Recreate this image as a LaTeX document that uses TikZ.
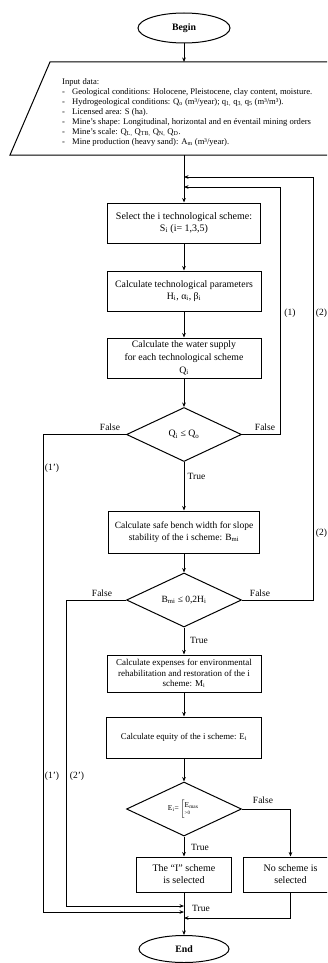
\documentclass[tikz,border=0pt]{standalone}
\usepackage{fontspec}
\setmainfont{Liberation Serif}
\usetikzlibrary{shapes.geometric,arrows.meta}
\newcommand\dashitem{\makebox[10pt][l]{-}}
\newcommand\sbs[1]{\textsubscript{#1}}
\newcommand\bxfont{\fontsize{9.8}{11.8}\selectfont}
\begin{document}
\begin{tikzpicture}[x=1pt,y=-1pt,
  proc/.style={draw, line width=1pt, align=center, inner sep=1pt, font=\bxfont},
  dec/.style={draw, diamond, line width=1pt, shape aspect=2, inner sep=0pt, minimum width=115pt, minimum height=54pt, font=\bxfont},
  term/.style={draw, ellipse, line width=1pt, inner sep=0pt, font=\fontsize{9.8}{11}\selectfont\bfseries},
  arr/.style={-{Stealth[length=4.5pt,width=3.6pt]}, line width=0.9pt},
  lbl/.style={inner sep=0pt, font=\fontsize{9.5}{11}\selectfont}
]
\useasboundingbox (0,0) rectangle (327,963);
\clip (0,0) rectangle (327,963);

% terminals
\node[term, minimum width=92pt, minimum height=30pt] (begin) at (184,28) {Begin};
\node[term, minimum width=90pt, minimum height=27pt] (end) at (184,949) {End};

% input data (parallelogram, right side runs off the picture)
\coordinate (inBL) at (10,155);
\coordinate (inTL) at (50,62);
\coordinate (inTR) at (380,62);
\coordinate (inBR) at (340,155);
\draw[line width=1pt] (inBL) -- (inTL) -- (inTR) -- (inBR) -- cycle;
\coordinate (intop) at (184,62);
\coordinate (inbot) at (184,155);
\node[anchor=north west, inner sep=0pt, align=left, font=\fontsize{8.6}{10}\selectfont] (intext) at (62,78) {Input data:\\
\dashitem Geological conditions: Holocene, Pleistocene, clay content, moisture.\\
\dashitem Hydrogeological conditions: Q\sbs{o} (m³/year); q\sbs{1,} q\sbs{3,} q\sbs{5} (m³/m³).\\
\dashitem Licensed area: S (ha).\\
\dashitem Mine’s shape: Longitudinal, horizontal and en éventail mining orders\\
\dashitem Mine’s scale: Q\sbs{L,} Q\sbs{TB,} Q\sbs{N,} Q\sbs{D}.\\
\dashitem Mine production (heavy sand): A\sbs{m} (m³/year).};

% process boxes
\node[proc, minimum width=153pt, minimum height=40pt, font=\fontsize{10}{11.5}\selectfont] (select) at (184,223) {Select the i technological scheme:\\ S\sbs{i} (i= 1,3,5)};
\node[proc, minimum width=154pt, minimum height=40pt] (tech) at (184,291) {Calculate technological parameters\\ H\sbs{i}, α\sbs{i}, β\sbs{i}};
\node[proc, minimum width=154pt, minimum height=40pt, font=\fontsize{9.8}{12.8}\selectfont] (water) at (184,358) {Calculate the water supply\\ for each technological scheme\\ Q\sbs{i}};
\node[dec] (d1) at (184,434.5) {Q\sbs{i} ≤ Q\sbs{o}};
\node[proc, minimum width=151pt, minimum height=42pt, font=\fontsize{9.5}{12.5}\selectfont] (safe) at (184,532) {Calculate safe bench width for slope\\ stability of the i scheme: B\sbs{mi}};
\node[dec, font=\fontsize{9.5}{11}\selectfont] (d2) at (184,600) {B\sbs{mi} ≤ 0,2H\sbs{i}};
\node[proc, minimum width=154pt, minimum height=37pt, font=\fontsize{9}{10.6}\selectfont] (exp) at (184,673.5) {Calculate expenses for environmental\\ rehabilitation and restoration of the i\\ scheme: M\sbs{i}};
\node[proc, minimum width=155pt, minimum height=41pt, font=\fontsize{8.8}{10.5}\selectfont] (equity) at (184,737.5) {Calculate equity of the i scheme: E\sbs{i}};
\node[dec] (d3) at (184,809) {\fontsize{7.5}{8}\selectfont E\sbs{i}=\,$\left[\mbox{\begin{tabular}{@{}l@{}}E\sbs{max}\\[-1pt] {\fontsize{5}{6}\selectfont >0}\end{tabular}}\right.$};
\node[proc, minimum width=95pt, minimum height=35pt, font=\fontsize{10}{12}\selectfont] (ischeme) at (184,874.5) {The “I” scheme\\ is selected};
\node[proc, minimum width=95pt, minimum height=35pt, font=\fontsize{10}{12}\selectfont] (noscheme) at (290.5,874.5) {No scheme is\\ selected};

% junction coordinates
\coordinate (j2) at (184,177);
\coordinate (j1) at (184,187);
\coordinate (m1) at (184,906);
\coordinate (m2) at (184,912);
\coordinate (m3) at (184,918);

% main flow
\draw[arr] (begin.south) -- (intop);
\draw[arr] (inbot) -- (select.north);
\draw[arr] (select.south) -- (tech.north);
\draw[arr] (tech.south) -- (water.north);
\draw[arr] (water.south) -- (d1.north);
\draw[arr] (d1.south) -- (safe.north);
\draw[arr] (safe.south) -- (d2.north);
\draw[arr] (d2.south) -- (exp.north);
\draw[arr] (exp.south) -- (equity.north);
\draw[arr] (equity.south) -- (d3.north);
\draw[arr] (d3.south) -- (ischeme.north);
\draw[arr] (ischeme.south) -- (end.north);

% loops back
\draw[arr] (d1.east) -- (280,434.5) |- (j1);
\draw[arr] (d2.east) -- (313,600) |- (j2);

% false branches to end
\draw[arr] (d1.west) -- (43,434.5) |- (m2);
\draw[arr] (d2.west) -- (66,600) |- (m1);
\draw[arr] (d3.east) -| (noscheme.north);
\draw[arr] (noscheme.south) |- (m3);

% labels
\node[lbl] (f1l) at (110,427) {False};
\node[lbl] (f1r) at (265,427) {False};
\node[lbl] (t1) at (196.5,476) {True};
\node[lbl] (c1p) at (52,468) {(1’)};
\node[lbl] (c1) at (290,313) {(1)};
\node[lbl] (c2a) at (321.5,313) {(2)};
\node[lbl] (c2b) at (321.5,533) {(2)};
\node[lbl] (f2l) at (102,593) {False};
\node[lbl] (f2r) at (260,593) {False};
\node[lbl] (t2) at (199,640) {True};
\node[lbl] (c1q) at (52,776) {(1’)};
\node[lbl] (c2q) at (77,776) {(2’)};
\node[lbl] (f3r) at (263,800) {False};
\node[lbl] (t3) at (200,847) {True};
\node[lbl] (t4) at (201,908) {True};
\end{tikzpicture}
\end{document}
